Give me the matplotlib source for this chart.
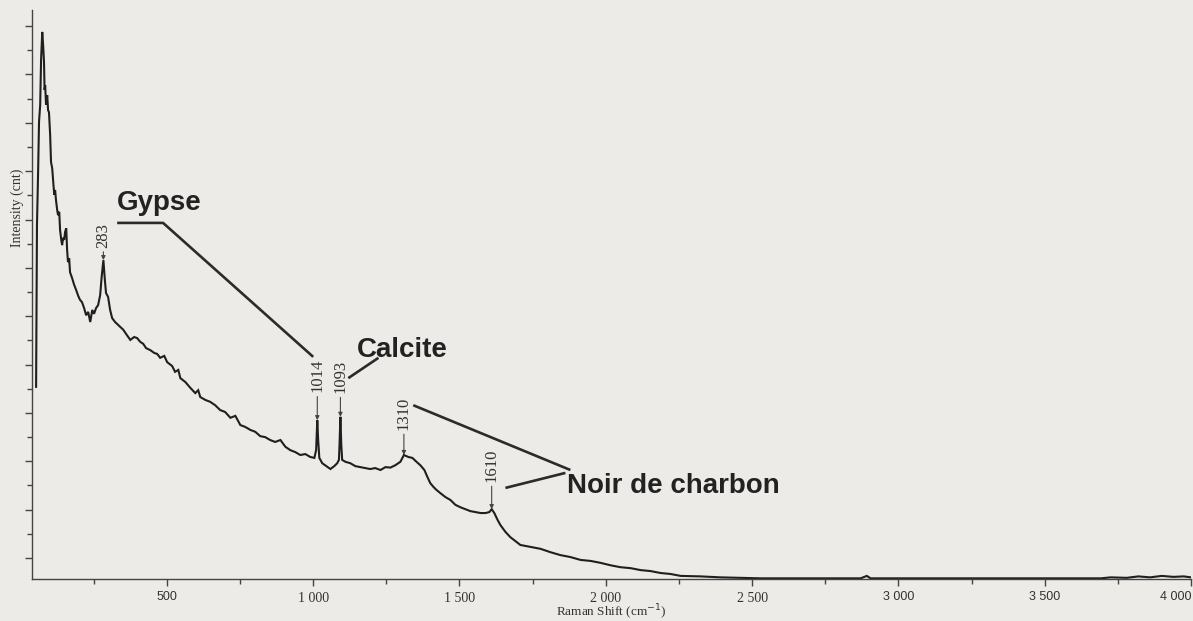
import numpy as np
import matplotlib
matplotlib.use("Agg")
import matplotlib.pyplot as plt
from matplotlib.ticker import MultipleLocator, AutoMinorLocator

# Raman spectrum (shift in cm-1, intensity in counts)
shift = [53, 56, 60, 63, 67, 70, 74, 77, 80, 82,
         84, 87, 91, 94, 97, 101, 104, 108, 111, 115,
         118, 121, 125, 128, 132, 135, 139, 142, 145, 149,
         152, 156, 159, 162, 166, 169, 176, 183, 190, 197,
         203, 210, 217, 224, 231, 238, 245, 251, 258, 265,
         272, 277, 283, 288, 292, 299, 306, 313, 323, 330,
         340, 351, 361, 375, 388, 398, 409, 419, 429, 443,
         457, 467, 477, 491, 501, 518, 528, 539, 546, 563,
         580, 597, 607, 614, 631, 648, 665, 682, 699, 717,
         734, 751, 768, 785, 802, 819, 836, 853, 870, 888,
         905, 922, 939, 956, 973, 990, 1004, 1010, 1012, 1014,
         1017, 1021, 1031, 1045, 1059, 1072, 1082, 1088, 1090, 1093,
         1096, 1099, 1110, 1127, 1144, 1161, 1178, 1195, 1212, 1230,
         1247, 1264, 1281, 1298, 1305, 1310, 1325, 1339, 1353, 1366,
         1380, 1390, 1400, 1411, 1421, 1435, 1452, 1469, 1486, 1503,
         1520, 1537, 1554, 1572, 1589, 1602, 1610, 1619, 1630, 1640,
         1657, 1674, 1691, 1708, 1743, 1777, 1811, 1845, 1879, 1914,
         1948, 1982, 2016, 2050, 2085, 2119, 2153, 2187, 2221, 2256,
         2324, 2392, 2461, 2529, 2666, 2871, 2892, 2905, 3692, 3726,
         3780, 3820, 3860, 3900, 3940, 3975, 4000]

intensity = [4540, 7890, 9020, 10020, 10370, 11300, 11880, 11610, 11260, 10680,
             10780, 10370, 10570, 10260, 10220, 9750, 9190, 9060, 8820, 8510,
             8610, 8400, 8200, 8090, 8160, 7780, 7580, 7470, 7620, 7580,
             7740, 7820, 7370, 7120, 7200, 6910, 6790, 6650, 6540, 6420,
             6340, 6290, 6170, 6020, 6090, 5880, 6130, 6050, 6170, 6230,
             6440, 6810, 7160, 6750, 6480, 6400, 6130, 5960, 5880, 5840,
             5780, 5720, 5630, 5510, 5570, 5550, 5470, 5430, 5340, 5300,
             5240, 5220, 5140, 5180, 5050, 4970, 4850, 4890, 4720, 4640,
             4520, 4410, 4470, 4330, 4270, 4230, 4160, 4060, 4020, 3900,
             3940, 3750, 3710, 3650, 3610, 3520, 3500, 3440, 3400, 3440,
             3300, 3230, 3190, 3130, 3150, 3090, 3070, 3230, 3540, 3850,
             3440, 3070, 2960, 2900, 2840, 2900, 2960, 3030, 3340, 3920,
             3340, 3030, 2990, 2960, 2900, 2880, 2860, 2840, 2860, 2820,
             2880, 2870, 2920, 2990, 3070, 3130, 3090, 3070, 2990, 2920,
             2820, 2680, 2550, 2470, 2410, 2340, 2260, 2200, 2100, 2050,
             2010, 1970, 1950, 1930, 1930, 1950, 2010, 1930, 1790, 1680,
             1540, 1430, 1350, 1270, 1230, 1190, 1120, 1060, 1020, 960,
             940, 900, 850, 810, 790, 750, 730, 690, 670, 630,
             620, 600, 590, 580, 580, 580, 630, 580, 580, 600,
             590, 620, 600, 630, 610, 620, 600]

# labelled peaks
peaks = [283, 1014, 1093, 1310, 1610]
peak_gap = [9, 20, 17, 18, 19.5]   # points between peak top and its label

# big callouts
words = ["Gypse", "Calcite", "Noir de charbon"]
word_pos = [(330, 8200), (1151, 5160), (1869, 2340)]
leaders = [
    [(330, 7930), (487, 7930), (1000, 5160)],
    [(1120, 4720), (1223, 5140)],
    [(1342, 4160), (1879, 2820)],
    [(1657, 2450), (1862, 2760)],
]

xtick_vals = [500, 1000, 1500, 2000, 2500, 3000, 3500, 4000]
xtick_text = ["500", "1 000", "1 500", "2 000", "2 500", "3 000", "3 500", "4 000"]

paper = "#ecebe8"
ink = "#2b2b2b"

fig = plt.figure(figsize=(11.93, 6.21), dpi=100, facecolor=paper)
ax = fig.add_axes([32 / 1193, 1 - 579 / 621, 1159 / 1193, 569 / 621])
ax.set_facecolor(paper)

ax.plot(shift, intensity, color="#1f1f1f", lw=1.5, solid_joinstyle="miter")

ax.set_xlim(39, 4000)
ax.set_ylim(566, 12333)

for s in ["top", "right"]:
    ax.spines[s].set_visible(False)
for s in ["left", "bottom"]:
    ax.spines[s].set_color("#444444")
    ax.spines[s].set_linewidth(1.0)

ax.xaxis.set_minor_locator(AutoMinorLocator(2))
ax.yaxis.set_major_locator(MultipleLocator(1000))
ax.yaxis.set_minor_locator(AutoMinorLocator(2))
ax.tick_params(which="major", direction="out", length=5, width=1, color="#444444")
ax.tick_params(which="minor", direction="out", length=3.5, width=1, color="#444444")
ax.tick_params(axis="y", labelleft=False)
ax.tick_params(axis="x", pad=4)

ax.set_xticks(xtick_vals)
ax.set_xticklabels(xtick_text)
for v, lbl in zip(xtick_vals, ax.get_xticklabels()):
    if v in (1000, 1500, 2000, 2500):
        lbl.set_fontfamily("Liberation Serif")
        lbl.set_fontsize(10)
    else:
        lbl.set_fontfamily("Liberation Sans")
        lbl.set_fontsize(9)
    lbl.set_color("#333333")
ax.get_xticklabels()[-1].set_horizontalalignment("right")

ax.set_xlabel("Raman Shift (cm$^{-1}$)", fontfamily="Liberation Serif",
              fontsize=9.5, color="#333333", labelpad=-1)
fig.text(17 / 1193, 1 - 208 / 621, "Intensity (cnt)", rotation=90,
         ha="center", va="center", fontfamily="Liberation Serif",
         fontsize=10, color="#333333")

# peak labels with small arrows
tops = np.interp(peaks, shift, intensity)
for p, top, gap in zip(peaks, tops, peak_gap):
    ax.annotate(str(p), xy=(p, top), xytext=(0, gap), textcoords="offset points",
                rotation=90, ha="center", va="bottom",
                fontfamily="Liberation Serif", fontsize=12, color="#333333",
                arrowprops=dict(arrowstyle="-|>", color="#444444", lw=0.8,
                                mutation_scale=6, shrinkA=1, shrinkB=0))

# callout words and leader lines
for w, (x, y) in zip(words, word_pos):
    ax.text(x, y, w, ha="left", va="baseline", fontfamily="Liberation Sans",
            fontweight="bold", fontsize=20, color="#222222")
for pts in leaders:
    xs, ys = zip(*pts)
    ax.plot(xs, ys, color=ink, lw=1.9, solid_capstyle="butt")

fig.savefig("out.png", dpi=100, facecolor=paper)
